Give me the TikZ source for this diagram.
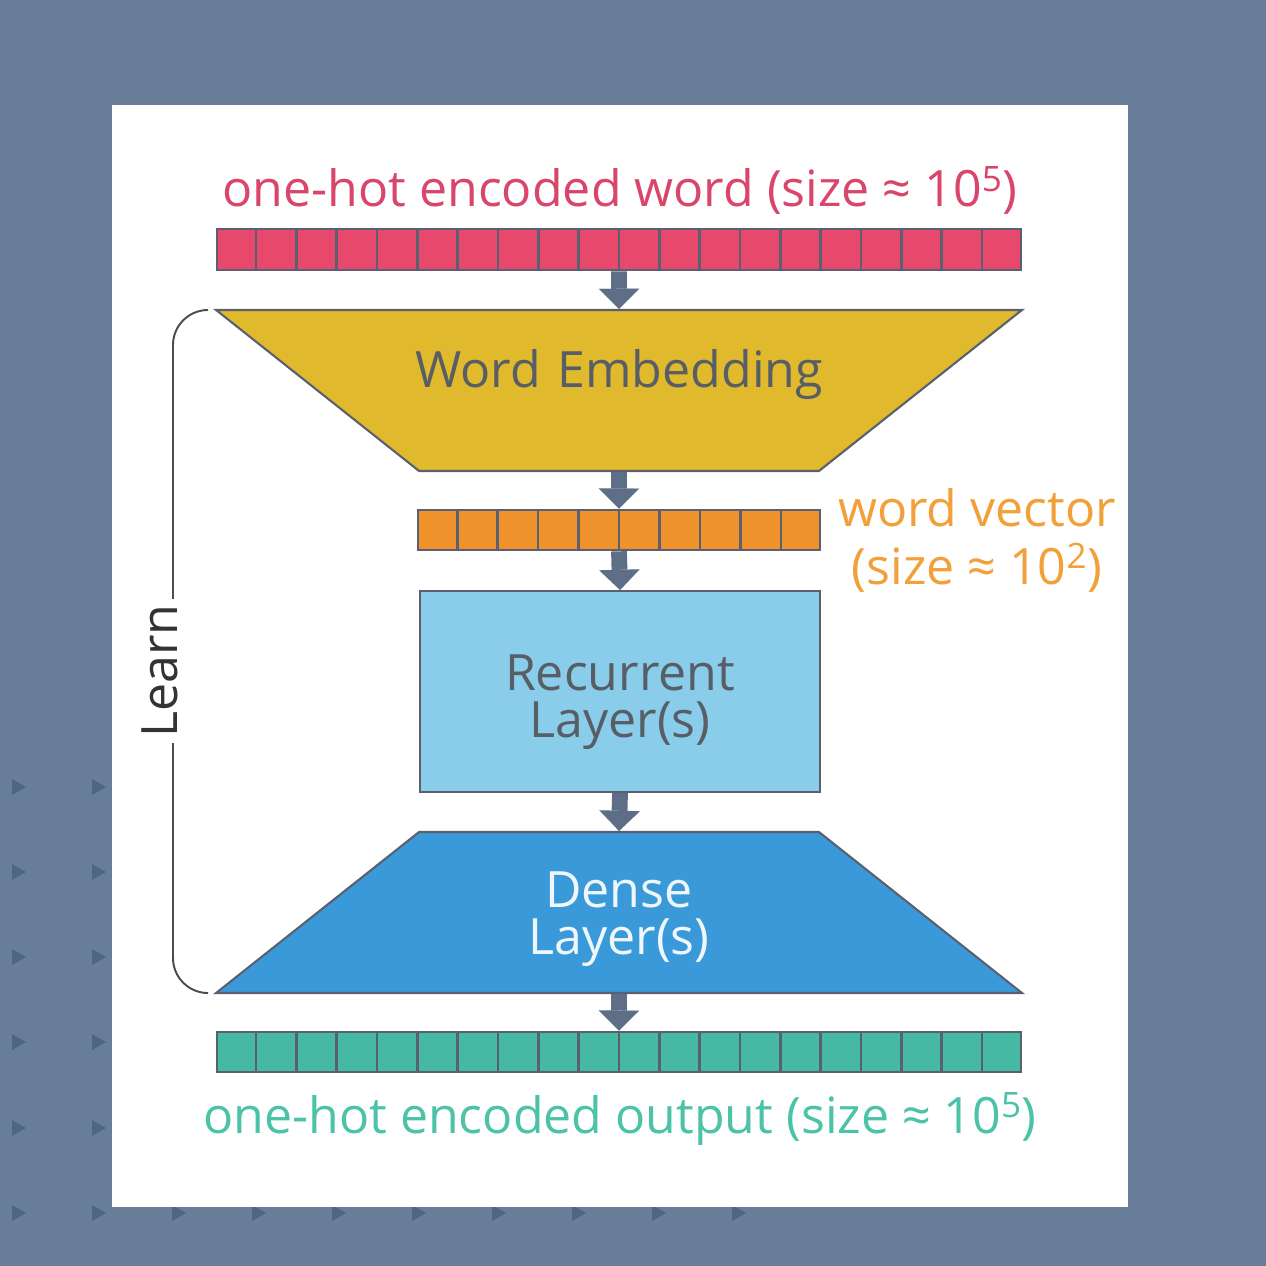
\documentclass[tikz,border=0pt]{standalone}
\usepackage{fontspec}
\setmainfont{Open Sans}
\usetikzlibrary{shapes.geometric,arrows.meta,calc}

\definecolor{slate}{HTML}{687D98}
\definecolor{slatetri}{HTML}{4F6584}
\definecolor{hotred}{HTML}{E8486B}
\definecolor{hotredtext}{HTML}{D9466A}
\definecolor{embyellow}{HTML}{E0B92C}
\definecolor{vecorange}{HTML}{F0922C}
\definecolor{vecorangetext}{HTML}{F2A03A}
\definecolor{rnnblue}{HTML}{89CDEA}
\definecolor{denseblue}{HTML}{3A9AD9}
\definecolor{outteal}{HTML}{45B9A1}
\definecolor{outtealtext}{HTML}{4CC2A9}
\definecolor{arrowgray}{HTML}{5E6E87}
\definecolor{edgegray}{HTML}{5B6070}
\definecolor{textgray}{HTML}{585E66}

\tikzset{
    bigtext/.style={font=\fontsize{28.5}{27}\selectfont},
    cellbar/.style={draw=edgegray, line width=1.5pt, inner sep=0pt, minimum height=0.8cm},
    cellline/.style={draw=edgegray, line width=1.5pt},
    layer/.style={draw=edgegray, line width=1.2pt, inner sep=0pt, bigtext, align=center, text width=8cm},
    funnel/.style={layer, shape=trapezium,
        trapezium left angle=38.42, trapezium right angle=38.42},
    flow/.style={draw=arrowgray, line width=9pt,
        -{Triangle[width=23pt, length=11.5pt, line width=0.01pt]}},
}

\begin{document}
\begin{tikzpicture}[x=0.02cm, y=-0.02cm]
        % Below is the background and the white card.
            \fill[slate] (0,0) rectangle (1266,1266);
            \foreach \y in {787,872,957,1042,1128,1213}
                \foreach \x in {18,98}
                    \fill[slatetri] (\x-6,\y-8) -- (\x+8,\y) -- (\x-6,\y+8) -- cycle;
            \foreach \x in {178,258,...,738}
                \fill[slatetri] (\x-6,1205) -- (\x+8,1213) -- (\x-6,1221) -- cycle;
            \fill[white] (112,105) rectangle (1128,1207);
        % The bars and the layers.
            \node[cellbar, fill=hotred, minimum width=16.08cm, minimum height=0.82cm] (inword) at (619,249.5) {};
            \node[funnel, shape border rotate=180, fill=embyellow, text=textgray,
                text height=1.56cm, text depth=1.66cm] (embed) at (619,390.5) {\makebox[0pt]{Word Embedding}};
            \node[cellbar, fill=vecorange, minimum width=8.04cm] (wvec) at (619,530) {};
            \node[layer, fill=rnnblue, text=textgray, text height=1.98cm, text depth=2.04cm] (rnn) at (620,691.5) {Recurrent\\Layer(s)};
            \node[funnel, fill=denseblue, text=white!92!denseblue,
                text height=1.5cm, text depth=1.72cm] (dense) at (619,912.5) {Dense\\Layer(s)};
            \node[cellbar, fill=outteal, minimum width=16.08cm] (outword) at (619,1052) {};
        % This draws the cells.
            \foreach \bar/\n/\m in {inword/19/20, wvec/9/10, outword/19/20}
                \foreach \i in {1,...,\n}
                    \draw[cellline] ($(\bar.north west)!\i/\m!(\bar.north east)$) -- ($(\bar.south west)!\i/\m!(\bar.south east)$);
        % Below nodes are the labels.
            \node[bigtext, text=hotredtext, anchor=base] (intext) at (620,207) {one-hot encoded word (size ≈ 10\textsuperscript{5})};
            \node[font=\fontsize{28.5}{33}\selectfont, text=vecorangetext, align=center] (vectext) at (977,540) {word vector\\(size ≈ 10\textsuperscript{2})};
            \node[bigtext, text=outtealtext, anchor=base] (outtext) at (620,1133) {one-hot encoded output (size ≈ 10\textsuperscript{5})};
        % The arrows.
            \draw[flow] (inword.south) -- (embed.north);
            \draw[flow] (embed.south) -- (wvec.north);
            \draw[flow] (wvec.south) -- (rnn.north);
            \draw[flow] (rnn.south) -- (dense.north);
            \draw[flow] (dense.south) -- (outword.north);
        % This draws the Learn bracket.
            \coordinate (ltop) at (205,310);
            \coordinate (lbot) at (205,993);
            \node[bigtext, text=black!80, rotate=90, anchor=mid, inner sep=3pt] (learn) at (173,671) {Learn};
            \draw[black!70, line width=1.1pt, rounded corners=0.7cm] (learn.mid east) -- (173,310) -- (ltop);
            \draw[black!70, line width=1.1pt, rounded corners=0.7cm] (learn.mid west) -- (173,993) -- (lbot);
    \end{tikzpicture}
\end{document}
